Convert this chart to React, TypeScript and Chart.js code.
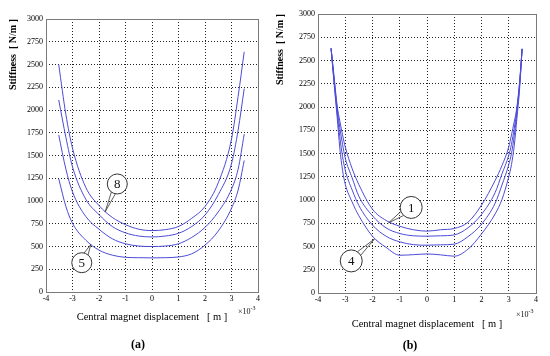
import React, { useEffect, useRef } from 'react';
import { Chart, registerables } from 'chart.js';

Chart.register(...registerables);

// ---------- data ----------
const xTicks = [-4, -3, -2, -1, 0, 1, 2, 3, 4];
const yTicks = [0, 250, 500, 750, 1000, 1250, 1500, 1750, 2000, 2250, 2500, 2750, 3000];

// panel (a): displacement (x 10^-3 m)
const xA = [-3.52, -3.25, -3, -2.5, -2, -1.5, -1, -0.5, 0, 0.5, 1, 1.5, 2, 2.5, 3, 3.25, 3.48];
const a1 = [2500, 1950, 1580, 1150, 950, 820, 740, 690, 675, 685, 720, 810, 940, 1200, 1680, 2150, 2640];
const a2 = [2110, 1700, 1375, 1020, 850, 720, 650, 615, 605, 615, 645, 720, 846, 1070, 1410, 1780, 2235];
const a3 = [1725, 1350, 1100, 830, 690, 585, 530, 505, 500, 505, 530, 600, 710, 880, 1130, 1350, 1735];
const a4 = [1245, 940, 755, 570, 460, 405, 381, 377, 375, 377, 385, 420, 515, 670, 920, 1120, 1445];

// panel (b)
const xB = [-3.52, -3.4, -3.3, -3.2, -3.1, -3, -2.75, -2.5, -2, -1.5, -1, -0.5, 0, 0.5, 1, 1.5, 2, 2.5, 2.75, 3, 3.1, 3.2, 3.3, 3.4, 3.49];
const b1 = [2630, 2300, 2020, 1850, 1700, 1570, 1340, 1165, 900, 780, 718, 680, 665, 680, 694, 760, 945, 1210, 1370, 1570, 1700, 1840, 2000, 2280, 2625];
const b2 = [2630, 2270, 1990, 1780, 1600, 1450, 1240, 1040, 830, 700, 640, 615, 611, 615, 625, 700, 845, 1080, 1280, 1480, 1600, 1770, 1970, 2260, 2625];
const b3 = [2630, 2250, 1950, 1680, 1470, 1320, 1110, 940, 730, 610, 550, 520, 514, 518, 525, 605, 740, 965, 1160, 1380, 1500, 1690, 1940, 2240, 2625];
const b4 = [2630, 2220, 1900, 1560, 1320, 1170, 980, 830, 610, 490, 406, 412, 420, 410, 396, 470, 635, 850, 1005, 1250, 1380, 1580, 1880, 2200, 2625];

// callouts: label, circle centre (data), pointed curve location (data)
const notesA = [
  { label: '8', cx: -1.31, cy: 1187, tx: -1.77, ty: 880 },
  { label: '5', cx: -2.65, cy: 322, tx: -2.31, ty: 522 },
];
const notesB = [
  { label: '1', cx: -0.58, cy: 920, tx: -1.41, ty: 755 },
  { label: '4', cx: -2.78, cy: 345, tx: -1.93, ty: 580 },
];

const SERIF = '"Liberation Serif", "Times New Roman", serif';
const LINE_COLOR = '#4b4bd6';

const extrasPlugin = {
  id: 'extras',
  afterDraw(chart: any, _args: any, opts: any) {
    const { ctx, chartArea: ca, scales } = chart;
    const xs = scales.x;
    const ys = scales.y;
    ctx.save();
    ctx.setLineDash([]);
    // frame
    ctx.strokeStyle = '#7a7a7a';
    ctx.lineWidth = 1;
    const l = Math.round(ca.left) + 0.5;
    const t = Math.round(ca.top) + 0.5;
    ctx.strokeRect(l, t, Math.round(ca.right) - Math.round(ca.left), Math.round(ca.bottom) - Math.round(ca.top));

    // callouts
    const r = opts.radius;
    for (const a of opts.notes) {
      const cx = xs.getPixelForValue(a.cx);
      const cy = ys.getPixelForValue(a.cy);
      const tx = xs.getPixelForValue(a.tx);
      const ty = ys.getPixelForValue(a.ty);
      const ang = Math.atan2(ty - cy, tx - cx);
      const sp = 0.22;
      ctx.strokeStyle = '#333';
      ctx.lineWidth = 0.8;
      ctx.beginPath();
      ctx.moveTo(cx + r * Math.cos(ang - sp), cy + r * Math.sin(ang - sp));
      ctx.lineTo(tx, ty);
      ctx.lineTo(cx + r * Math.cos(ang + sp), cy + r * Math.sin(ang + sp));
      ctx.stroke();
      ctx.beginPath();
      ctx.arc(cx, cy, r, 0, Math.PI * 2);
      ctx.fillStyle = '#fff';
      ctx.fill();
      ctx.lineWidth = 1;
      ctx.stroke();
      ctx.fillStyle = '#111';
      ctx.font = `13px ${SERIF}`;
      ctx.textAlign = 'center';
      ctx.textBaseline = 'middle';
      ctx.fillText(a.label, cx, cy + 1);
    }

    // x10^-3 exponent
    ctx.fillStyle = '#111';
    ctx.textAlign = 'left';
    ctx.textBaseline = 'alphabetic';
    const ex = ca.right - 20;
    const ey = ca.bottom + opts.expDy;
    ctx.font = `8px ${SERIF}`;
    ctx.fillText('\u00d710', ex, ey);
    const w = ctx.measureText('\u00d710').width;
    ctx.font = `6px ${SERIF}`;
    ctx.fillText('-3', ex + w, ey - 4);

    // panel label
    ctx.font = `bold 12px ${SERIF}`;
    ctx.textAlign = 'center';
    ctx.textBaseline = 'middle';
    ctx.fillStyle = '#000';
    ctx.fillText(opts.panel, opts.panelX, opts.panelY);
    ctx.restore();
  },
};

type PanelProps = {
  xs: number[];
  series: number[][];
  notes: any[];
  leftW: number;
  topPad: number;
  rightPad: number;
  bottomH: number;
  yTitlePad: number;
  xTitlePad: number;
  radius: number;
  expDy: number;
  panel: string;
  panelX: number;
  panelY: number;
};

function Panel(p: PanelProps) {
  const ref = useRef<HTMLCanvasElement | null>(null);
  useEffect(() => {
    if (!ref.current) return;
    const datasets = p.series.map((s) => ({
      data: p.xs.map((x, i) => ({ x, y: s[i] })),
      borderColor: LINE_COLOR,
      borderWidth: 1,
      pointRadius: 0,
      fill: false,
      cubicInterpolationMode: 'monotone' as const,
    }));
    const chart = new Chart(ref.current, {
      type: 'line',
      data: { datasets },
      options: {
        animation: false,
        responsive: false,
        maintainAspectRatio: false,
        layout: { padding: { left: 0, top: p.topPad, right: p.rightPad, bottom: 0 } },
        plugins: {
          legend: { display: false },
          tooltip: { enabled: false },
          extras: {
            notes: p.notes,
            radius: p.radius,
            expDy: p.expDy,
            panel: p.panel,
            panelX: p.panelX,
            panelY: p.panelY,
          },
        } as any,
        scales: {
          x: {
            type: 'linear',
            min: -4,
            max: 4,
            afterBuildTicks: (s: any) => {
              s.ticks = xTicks.map((v) => ({ value: v }));
            },
            afterFit: (s: any) => {
              s.height = p.bottomH;
            },
            ticks: {
              color: '#000',
              font: { family: SERIF, size: 8 },
              padding: 2,
              maxRotation: 0,
              autoSkip: false,
              callback: (v: any) => String(v),
            },
            grid: { color: '#222', lineWidth: 1, drawTicks: false },
            border: { display: false, dash: [1, 2] },
            title: {
              display: true,
              text: 'Central magnet displacement   [ m ]',
              color: '#000',
              font: { family: SERIF, size: 10.5, lineHeight: 1.2 },
              padding: { top: 0, bottom: p.xTitlePad },
            },
          },
          y: {
            type: 'linear',
            min: 0,
            max: 3000,
            afterBuildTicks: (s: any) => {
              s.ticks = yTicks.map((v) => ({ value: v }));
            },
            afterFit: (s: any) => {
              s.width = p.leftW;
            },
            ticks: {
              color: '#000',
              font: { family: SERIF, size: 8 },
              padding: 3,
              autoSkip: false,
              callback: (v: any) => String(v),
            },
            grid: { color: '#222', lineWidth: 1, drawTicks: false },
            border: { display: false, dash: [1, 2] },
            title: {
              display: true,
              text: 'Stiffness  [ N/m ]',
              align: 'end',
              color: '#000',
              font: { family: SERIF, size: 10, weight: 'bold', lineHeight: 1 },
              padding: { top: p.yTitlePad, bottom: 0 },
            },
          },
        },
      },
      plugins: [extrasPlugin],
    });
    return () => chart.destroy();
  }, []);
  return <canvas ref={ref} width={275} height={356} style={{ display: 'block' }} />;
}

export default function App() {
  return (
    <div
      style={{
        position: 'fixed',
        left: 0,
        top: 0,
        width: 550,
        height: 356,
        background: '#fff',
        overflow: 'hidden',
      }}
    >
      <div style={{ position: 'absolute', left: 0, top: 0, width: 275, height: 356 }}>
        <Panel
          xs={xA}
          series={[a1, a2, a3, a4]}
          notes={notesA}
          leftW={46}
          topPad={19}
          rightPad={17}
          bottomH={64}
          yTitlePad={8}
          xTitlePad={32}
          radius={10}
          expDy={22}
          panel="(a)"
          panelX={138}
          panelY={345}
        />
      </div>
      <div style={{ position: 'absolute', left: 275, top: 0, width: 275, height: 356 }}>
        <Panel
          xs={xB}
          series={[b1, b2, b3, b4]}
          notes={notesB}
          leftW={43}
          topPad={14}
          rightPad={14}
          bottomH={63}
          yTitlePad={0}
          xTitlePad={25}
          radius={11}
          expDy={24}
          panel="(b)"
          panelX={135}
          panelY={346}
        />
      </div>
    </div>
  );
}
